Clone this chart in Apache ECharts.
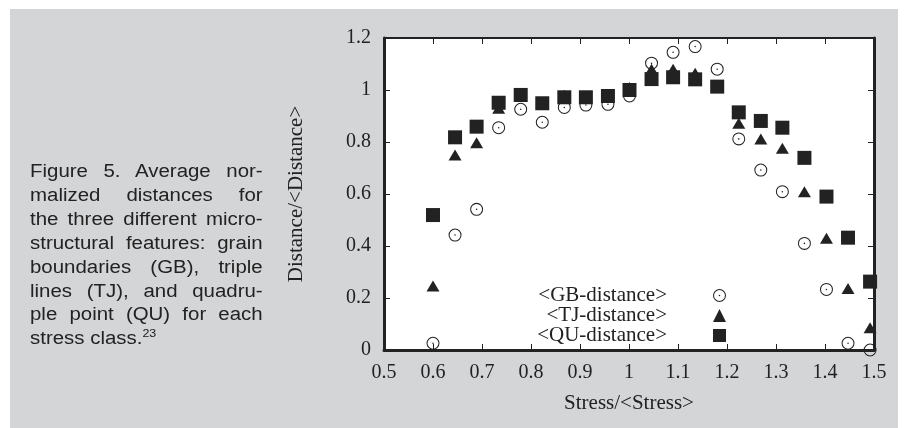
<!DOCTYPE html>
<html lang="en">
<head>
    <meta charset="UTF-8">
    <title>Figure 5</title>
    <script src="https://cdn.jsdelivr.net/npm/echarts@6/dist/echarts.min.js"></script>
    <style>
        html, body { margin: 0; padding: 0; background: #fff; }
        #panel { position: absolute; left: 10px; top: 9px; width: 888px; height: 419px; background: #d4d5d7; }
        #chart { position: absolute; left: 0; top: 0; width: 904px; height: 428px; }
        #caption {
            position: absolute; left: 30px; top: 160px; width: 205px;
            font-family: "Liberation Sans", Arial, sans-serif; font-size: 18px; line-height: 23.9px;
            color: #222; transform: scaleX(1.135); transform-origin: left top;
        }
        #caption div { text-align: justify; text-align-last: justify; white-space: nowrap; }
        #caption div.last { text-align: left; text-align-last: left; }
        #caption sup { font-size: 11px; vertical-align: 7px; line-height: 0; }
    </style>
</head>
<body>
    <div id="panel"></div>
    <div id="chart"></div>
    <div id="caption">
        <div>Figure 5. Average nor-</div>
        <div>malized distances for</div>
        <div>the three different micro-</div>
        <div>structural features: grain</div>
        <div>boundaries (GB), triple</div>
        <div>lines (TJ), and quadru-</div>
        <div>ple point (QU) for each</div>
        <div class="last">stress class.<sup>23</sup></div>
    </div>

    <script>
        // stress classes (normalized)
        const stress = [0.600, 0.645, 0.689, 0.734, 0.779, 0.823, 0.868, 0.912, 0.957, 1.001,
                        1.046, 1.090, 1.135, 1.180, 1.224, 1.269, 1.313, 1.358, 1.403, 1.447, 1.492];

        const gbDist = [0.026, 0.442, 0.541, 0.855, 0.926, 0.876, 0.933, 0.942, 0.945, 0.977,
                        1.103, 1.145, 1.167, 1.080, 0.812, 0.692, 0.609, 0.410, 0.233, 0.026, 0.000];
        const tjDist = [0.246, 0.750, 0.797, 0.930, 0.975, 0.950, 0.980, 0.975, 0.980, 1.010,
                        1.080, 1.080, 1.064, 1.010, 0.872, 0.812, 0.776, 0.609, 0.430, 0.237, 0.086];
        const quDist = [0.519, 0.818, 0.859, 0.951, 0.981, 0.949, 0.972, 0.972, 0.977, 1.000,
                        1.042, 1.049, 1.041, 1.013, 0.914, 0.881, 0.855, 0.739, 0.590, 0.432, 0.263];

        const seriesNames = ['<GB-distance>', '<TJ-distance>', '<QU-distance>'];

        const ink = '#222';
        const serif = '"Liberation Serif", "Times New Roman", serif';

        // open circle with a dot in the middle
        const dotCircle = 'path://M50,0 A50,50 0 1,1 50,100 A50,50 0 1,1 50,0 Z ' +
                          'M50,8 A42,42 0 1,0 50,92 A42,42 0 1,0 50,8 Z ' +
                          'M50,44 A6,6 0 1,1 50,56 A6,6 0 1,1 50,44 Z';

        const pairs = vals => stress.map((s, i) => [s, vals[i]]);

        const legendAt = (name, top) => ({
            data: [name],
            orient: 'vertical',
            align: 'right',
            right: 178,
            top: top,
            padding: 0,
            itemWidth: 13,
            itemHeight: 13,
            selectedMode: false,
            textStyle: {
                fontFamily: serif,
                fontSize: 21,
                lineHeight: 20,
                color: ink,
                padding: [0, 41, 0, 0]
            }
        });

        const chart = echarts.init(document.getElementById('chart'));

        const option = {
            animation: false,
            grid: {
                left: 384, right: 30, top: 38, bottom: 78,
                show: true, backgroundColor: '#fff', borderWidth: 0
            },
            legend: [
                legendAt(seriesNames[0], 285),
                legendAt(seriesNames[1], 305),
                legendAt(seriesNames[2], 325)
            ],
            xAxis: [{
                type: 'value',
                min: 0.5, max: 1.5, interval: 0.1,
                name: 'Stress/<Stress>',
                nameLocation: 'middle',
                nameGap: 43,
                nameTextStyle: { fontFamily: serif, fontSize: 21, color: ink },
                axisLine: { onZero: false, lineStyle: { color: ink, width: 3 } },
                axisTick: { inside: true, length: 6, lineStyle: { color: ink, width: 1 } },
                axisLabel: { fontFamily: serif, fontSize: 20, color: ink, margin: 13 },
                splitLine: { show: false }
            }, {
                type: 'value',
                position: 'top',
                min: 0.5, max: 1.5, interval: 0.1,
                axisLine: { onZero: false, lineStyle: { color: ink, width: 2 } },
                axisTick: { inside: true, length: 6, lineStyle: { color: ink, width: 1 } },
                axisLabel: { show: false },
                splitLine: { show: false }
            }],
            yAxis: [{
                type: 'value',
                min: 0, max: 1.2, interval: 0.2,
                name: 'Distance/<Distance>',
                nameLocation: 'middle',
                nameGap: 77,
                nameTextStyle: { fontFamily: serif, fontSize: 21, color: ink },
                axisLine: { show: true, onZero: false, lineStyle: { color: ink, width: 3 } },
                axisTick: { show: true, inside: true, length: 6, lineStyle: { color: ink, width: 1 } },
                axisLabel: { fontFamily: serif, fontSize: 20, color: ink, margin: 13 },
                splitLine: { show: false }
            }, {
                type: 'value',
                position: 'right',
                min: 0, max: 1.2, interval: 0.2,
                axisLine: { show: true, onZero: false, lineStyle: { color: ink, width: 3 } },
                axisTick: { show: true, inside: true, length: 6, lineStyle: { color: ink, width: 1 } },
                axisLabel: { show: false },
                splitLine: { show: false }
            }],
            series: [{
                name: seriesNames[0],
                type: 'scatter',
                clip: false,
                symbol: dotCircle,
                symbolSize: 13,
                itemStyle: { color: ink, opacity: 1 },
                data: pairs(gbDist),
                z: 2
            }, {
                name: seriesNames[1],
                type: 'scatter',
                clip: false,
                symbol: 'triangle',
                symbolSize: [13, 11],
                itemStyle: { color: ink, opacity: 1 },
                data: pairs(tjDist),
                z: 3
            }, {
                name: seriesNames[2],
                type: 'scatter',
                clip: false,
                symbol: 'rect',
                symbolSize: 14,
                itemStyle: { color: ink, opacity: 1 },
                data: pairs(quDist),
                z: 4
            }]
        };

        chart.setOption(option);
    </script>
</body>
</html>
